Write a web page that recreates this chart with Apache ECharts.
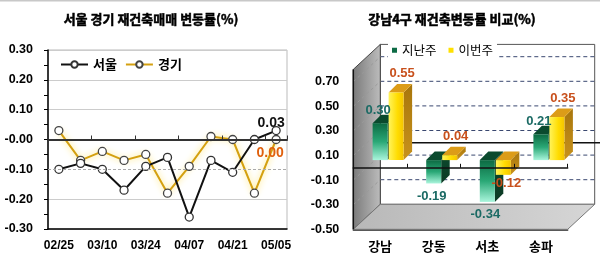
<!DOCTYPE html>
<html><head><meta charset="utf-8">
<script src="https://cdn.jsdelivr.net/npm/echarts@6/dist/echarts.min.js"></script>
<style>html,body{margin:0;padding:0;background:#fff}#c{width:600px;height:262px}</style>
</head><body><div id="c"></div><script>
// ---- Left chart data ----
const weeks = ['02/25','03/03','03/10','03/17','03/24','03/31','04/07','04/14','04/21','04/28','05/05'];
const seoul = [-0.10,-0.08,-0.10,-0.17,-0.09,-0.06,-0.26,-0.07,-0.11,0.00,0.03];
const gyeonggi = [0.03,-0.07,-0.04,-0.07,-0.05,-0.18,-0.09,0.01,0.00,-0.18,0.00];
const leftTicks = [-0.30,-0.20,-0.10,0.00,0.10,0.20,0.30];
// ---- Right chart data ----
const districts = ['강남','강동','서초','송파'];
const lastWeek = [0.30,-0.19,-0.34,0.21];
const thisWeek = [0.55,0.04,-0.12,0.35];
const rightTicks = [-0.50,-0.30,-0.10,0.10,0.30,0.50,0.70];

const FONT = "'Liberation Sans', Arial, sans-serif";
const KFONT = "'Noto Sans CJK KR', 'Liberation Sans', sans-serif";
const WALL_TOP = 0.8;
const DX = 27, DY = -25;
const BAR_W = 15, BAR_GAP = 1, FRONT_DX = 8, FRONT_DY = -7.7, DEPTH_DX = 8.5, DEPTH_DY = -8.5;
const LG = echarts.graphic.LinearGradient;

function lastLabel(arr, lab) {
  return arr.map((v, i) => i === arr.length - 1 ? {value: v, label: lab} : v);
}

function wallRender(params, api) {
  const cs = params.coordSys;
  const L = cs.x, R = cs.x + cs.width;
  const y = v => api.coord([0, v])[1];
  const yTop = y(WALL_TOP), yBot = y(rightTicks[0]);
  const ch = [];
  ch.push({type:'rect', shape:{x:L+DX, y:yTop+DY, width:R-L, height:yBot-yTop}, style:{fill:'#fff', stroke:'#555', lineWidth:1}});
  rightTicks.slice(1).forEach(v => ch.push({type:'line', shape:{x1:L+DX, y1:y(v)+DY, x2:R+DX, y2:y(v)+DY}, style:{stroke:'#3a4870', lineDash:[4,3], lineWidth:1}}));
  ch.push({type:'line', shape:{x1:L+DX, y1:y(0)+DY, x2:R+DX+8, y2:y(0)+DY}, style:{stroke:'#111', lineWidth:1.5}});
  ch.push({type:'polygon', shape:{points:[[L,yTop],[L+DX,yTop+DY],[L+DX,yBot+DY],[L,yBot]]},
    style:{fill:new LG(0,0,1,0,[{offset:0,color:'#7a7a7a'},{offset:1,color:'#bdbdbd'}]), stroke:'#444', lineWidth:1}});
  rightTicks.slice(1).forEach(v => ch.push({type:'line', shape:{x1:L, y1:y(v), x2:L+DX, y2:y(v)+DY}, style:{stroke:'#9a9a9a', lineDash:[3,3], lineWidth:1}}));
  ch.push({type:'polygon', shape:{points:[[L,yBot],[L+DX,yBot+DY],[R+DX,yBot+DY],[R,yBot]]},
    style:{fill:new LG(0,0,1,0,[{offset:0,color:'#b8b8b8'},{offset:1,color:'#d6d6d6'}]), stroke:'#777', lineWidth:1}});
  ch.push({type:'line', shape:{x1:L, y1:yTop, x2:L, y2:yBot}, style:{stroke:'#111', lineWidth:1.5}});
  return {type:'group', children:ch};
}

const greenPal = {
  front: new LG(0,0,0,1,[{offset:0,color:'#0c6a42'},{offset:0.5,color:'#2aa876'},{offset:1,color:'#aaf5dc'}]),
  top: '#0a4a2e',
  side: new LG(0,0,0,1,[{offset:0,color:'#0a4a2e'},{offset:1,color:'#0d3a24'}]),
  label: '#1b6a64', posDx:-2, posDy:-13, negDx:-2, negDy:13
};
const yellowPal = {
  front: new LG(0,0,1,0,[{offset:0,color:'#fff45c'},{offset:0.6,color:'#ffdc00'},{offset:1,color:'#f5c400'}]),
  top: '#dc9c18',
  side: new LG(0,0,0,1,[{offset:0,color:'#a8760c'},{offset:1,color:'#c8921c'}]),
  label: '#c8501c', posDx:6, posDy:-19, negDx:3, negDy:9
};

function makeBarRender(side, pal) {
  return function (params, api) {
    const cat = api.value(0), v = api.value(1);
    const p0 = api.coord([cat, 0]), pv = api.coord([cat, v]);
    const xl = (side === 0 ? p0[0] - BAR_W - BAR_GAP / 2 : p0[0] + BAR_GAP / 2) + FRONT_DX;
    const xr = xl + BAR_W;
    const yt = Math.min(p0[1], pv[1]) + FRONT_DY;
    const yb = Math.max(p0[1], pv[1]) + FRONT_DY;
    const cx = xl + BAR_W / 2;
    const lab = v >= 0 ? [cx + pal.posDx, yt + pal.posDy] : [cx + pal.negDx, yb + pal.negDy];
    return {type:'group', children:[
      {type:'polygon', shape:{points:[[xr,yt],[xr+DEPTH_DX,yt+DEPTH_DY],[xr+DEPTH_DX,yb+DEPTH_DY],[xr,yb]]}, style:{fill:pal.side}},
      {type:'polygon', shape:{points:[[xl,yt],[xl+DEPTH_DX,yt+DEPTH_DY],[xr+DEPTH_DX,yt+DEPTH_DY],[xr,yt]]}, style:{fill:pal.top}},
      {type:'rect', shape:{x:xl, y:yt, width:BAR_W, height:yb-yt}, style:{fill:pal.front}},
      {type:'text', x:lab[0], y:lab[1], z2:100, style:{text:v.toFixed(2), fill:pal.label, font:"bold 13px 'Liberation Sans', Arial, sans-serif", align:'center', verticalAlign:'middle'}}
    ]};
  };
}

const heavy = {textBorderColor:'#000', textBorderWidth:0.5};

const chart = echarts.init(document.getElementById('c'));
chart.setOption({
  animation: false,
  backgroundColor: '#fff',
  graphic: [{type:'rect', left:0, top:0, shape:{width:600, height:1.5}, style:{fill:'#c8c8c8'}}],
  title: [
    {text:'서울 경기 재건축매매 변동률(%)', left:151, top:13, textAlign:'center', padding:0,
     textStyle:Object.assign({fontSize:13, fontWeight:'bold', color:'#000', fontFamily:KFONT}, heavy)},
    {text:'강남4구 재건축변동률 비교(%)', left:452, top:13, textAlign:'center', padding:0,
     textStyle:Object.assign({fontSize:13, fontWeight:'bold', color:'#000', fontFamily:KFONT}, heavy)}
  ],
  legend: [
    {data:['서울','경기'], left:60, top:58, padding:0, itemWidth:27, itemHeight:8, itemGap:8,
     textStyle:{fontSize:13, color:'#000', fontWeight:'bold', fontFamily:KFONT}},
    {data:['지난주','이번주'], left:388, top:42, padding:[2,4], itemWidth:5, itemHeight:5, itemGap:12, icon:'rect',
     backgroundColor:'#fff', textStyle:{fontSize:12.5, color:'#000', fontFamily:KFONT}}
  ],
  grid: [
    {left:48, right:313, top:50, bottom:33, show:true, borderColor:'#bbb', borderWidth:1, backgroundColor:'transparent'},
    {left:353.3, right:32.3, top:81.7, bottom:32.7}
  ],
  xAxis: [
    {type:'category', gridIndex:0, data:weeks, boundaryGap:true, position:'bottom',
     axisLine:{onZero:false, lineStyle:{color:'#000', width:1.5}}, axisTick:{show:false},
     axisLabel:{interval:1, fontSize:12, color:'#000', margin:11, fontWeight:'bold', fontFamily:FONT}},
    {type:'category', gridIndex:0, data:weeks, boundaryGap:true, position:'top', z:5,
     axisLine:{onZero:true, lineStyle:{color:'#333', width:2}},
     axisTick:{show:true, inside:false, length:4, lineStyle:{color:'#333'}}, axisLabel:{show:false}},
    {type:'category', gridIndex:1, data:districts, boundaryGap:true, position:'bottom',
     axisLine:{onZero:false, lineStyle:{color:'#222', width:1.5}}, axisTick:{show:false},
     axisLabel:{fontSize:13, color:'#000', margin:10, fontWeight:'bold', fontFamily:KFONT}},
    {type:'category', gridIndex:1, data:districts, boundaryGap:true, position:'top', z:5,
     axisLine:{onZero:true, lineStyle:{color:'#111', width:1.5}},
     axisTick:{show:true, inside:false, length:4, lineStyle:{color:'#111'}}, axisLabel:{show:false}}
  ],
  yAxis: [
    {type:'value', gridIndex:0, min:leftTicks[0], max:leftTicks[leftTicks.length-1], interval:leftTicks[1]-leftTicks[0],
     axisLine:{show:true, lineStyle:{color:'#000', width:1.5}},
     axisTick:{show:true, length:4, lineStyle:{color:'#000'}},
     minorTick:{show:true, splitNumber:2, length:4, lineStyle:{color:'#000'}},
     splitLine:{show:true, lineStyle:{color:['#ccc','#ccc','rgba(0,0,0,0)','rgba(0,0,0,0)','#ccc','#ccc','#ccc']}},
     axisLabel:{formatter:v => v.toFixed(2), fontSize:12.5, color:'#000', margin:15, fontWeight:'bold', fontFamily:FONT}},
    {type:'value', gridIndex:1, min:rightTicks[0], max:rightTicks[rightTicks.length-1], interval:rightTicks[1]-rightTicks[0],
     axisLine:{show:false}, axisTick:{show:true, inside:true, length:3, lineStyle:{color:'#333'}},
     splitLine:{show:false},
     axisLabel:{formatter:v => v.toFixed(2), fontSize:12.5, color:'#000', margin:14, fontWeight:'bold', fontFamily:FONT}}
  ],
  series: [
    {name:'경기', type:'line', xAxisIndex:0, yAxisIndex:0, z:3,
     data: lastLabel(gyeonggi, {show:true, position:'bottom', distance:0, offset:[-6,2], color:'#e0600c', fontSize:14, fontWeight:'bold', fontFamily:FONT, formatter:p => p.value.toFixed(2)}),
     symbol:'circle', symbolSize:8,
     lineStyle:{color:'#d4a010', width:2, shadowColor:'rgba(255,225,90,0.95)', shadowBlur:6},
     itemStyle:{color:'#fff', borderColor:'#444', borderWidth:1.3},
     markLine:{silent:true, symbol:'none', label:{show:false}, lineStyle:{color:'#aaa', type:[3,2], width:1}, data:[{yAxis:-0.1}]}},
    {name:'서울', type:'line', xAxisIndex:0, yAxisIndex:0, z:4,
     data: lastLabel(seoul, {show:true, position:'top', distance:0, offset:[-5,4], color:'#111', fontSize:14, fontWeight:'bold', fontFamily:FONT, formatter:p => p.value.toFixed(2)}),
     symbol:'circle', symbolSize:8,
     lineStyle:{color:'#111', width:2},
     itemStyle:{color:'#fff', borderColor:'#333', borderWidth:1.3}},
    {name:'walls', type:'custom', xAxisIndex:2, yAxisIndex:1, z:1, silent:true, data:[[0,0]], renderItem:wallRender},
    {name:'지난주', type:'custom', xAxisIndex:2, yAxisIndex:1, z:2, silent:true, itemStyle:{color:'#0d6b45'},
     encode:{x:0, y:1}, data:lastWeek.map((v,i) => [i,v]), renderItem:makeBarRender(0, greenPal)},
    {name:'이번주', type:'custom', xAxisIndex:2, yAxisIndex:1, z:2, silent:true, itemStyle:{color:'#ffe000'},
     encode:{x:0, y:1}, data:thisWeek.map((v,i) => [i,v]), renderItem:makeBarRender(1, yellowPal)}
  ]
});
</script></body></html>
